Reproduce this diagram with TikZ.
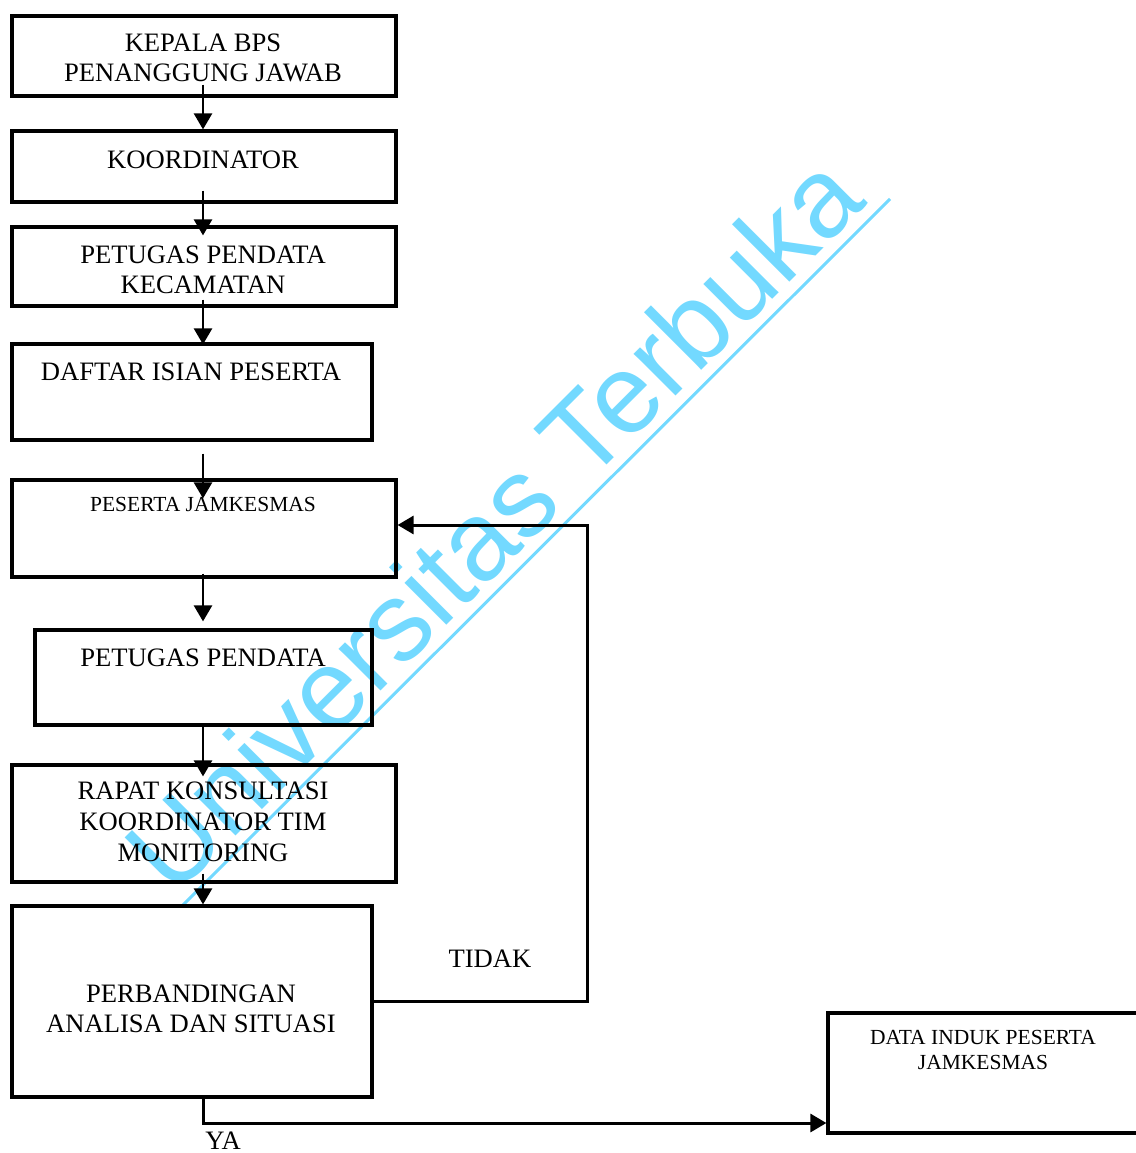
\documentclass[tikz,border=0pt]{standalone}
\usepackage{fontspec}
\setmainfont{Liberation Serif}
\newfontfamily\wmfont{Liberation Sans}
\usetikzlibrary{arrows.meta,fit,calc}
\definecolor{wmblue}{RGB}{115,217,255}
\begin{document}
\begin{tikzpicture}[x=1pt,y=-1pt,
  box/.style={draw, line width=3.2pt, inner sep=0pt},
  lbl/.style={font=\fontsize{26.6}{30}\selectfont, anchor=base, inner sep=0pt},
  lbls/.style={font=\fontsize{21.5}{25}\selectfont, anchor=base, inner sep=0pt},
  arr/.style={line width=2.6pt, -{Triangle[length=16pt,width=18pt]}},
  wmtext/.style={font=\wmfont\fontsize{112}{112}\selectfont, text=wmblue, rotate=45, anchor=base west, inner sep=0pt},
  wmline/.style={draw=wmblue, line width=3pt},
]
\useasboundingbox (0,0) rectangle (1135,1153);

% watermark
\node[wmtext] (wm) at (173,899) {Universitas Terbuka};
\coordinate (wmA) at (183,905);
\coordinate (wmB) at (890,199);
\draw[wmline] (wmA) -- (wmB);

% boxes
\node[box, fit={(12,16) (396,96)}] (b1) {};
\node[box, fit={(12,131) (396,202)}] (b2) {};
\node[box, fit={(12,227) (396,306)}] (b3) {};
\node[box, fit={(12,344) (372,440)}] (b4) {};
\node[box, fit={(12,480) (396,577)}] (b5) {};
\node[box, fit={(35,630) (372,725)}] (b6) {};
\node[box, fit={(12,765) (396,882)}] (b7) {};
\node[box, fit={(12,906) (372,1097)}] (b8) {};
\node[box, fit={(828,1013) (1145,1133)}] (b9) {};

% texts
\node[lbl] (t1a) at (203,52) {KEPALA BPS};
\node[lbl] (t1b) at (203,82) {PENANGGUNG JAWAB};
\node[lbl] (t2) at (203,168) {KOORDINATOR};
\node[lbl] (t3a) at (203,263) {PETUGAS PENDATA};
\node[lbl] (t3b) at (203,293) {KECAMATAN};
\node[lbl] (t4) at (191,380) {DAFTAR ISIAN PESERTA};
\node[lbls] (t5) at (203,511) {PESERTA JAMKESMAS};
\node[lbl] (t6) at (203,666) {PETUGAS PENDATA};
\node[lbl] (t7a) at (203,799) {RAPAT KONSULTASI};
\node[lbl] (t7b) at (203,830) {KOORDINATOR TIM};
\node[lbl] (t7c) at (203,861) {MONITORING};
\node[lbl] (t8a) at (191,1002) {PERBANDINGAN};
\node[lbl] (t8b) at (191,1032) {ANALISA DAN SITUASI};
\node[lbls] (t9a) at (983,1044) {DATA INDUK PESERTA};
\node[lbls] (t9b) at (983,1069) {JAMKESMAS};
\node[lbl] (tidak) at (490,967) {TIDAK};
\node[lbl] (ya) at (223,1149) {YA};

% vertical arrows
\draw[arr] ($(b1.south)+(-1,-13)$) -- ($(b2.north)+(-1,0)$);
\draw[arr] ($(b2.south)+(-1,-13)$) -- ($(b3.north)+(-1,10)$);
\draw[arr] ($(b3.south)+(-1,-8)$) -- ($(b3.south |- b4.north)+(-1,2)$);
\draw[arr] ($(b3.south |- b4.south)+(-1,12)$) -- ($(b5.north)+(-1,20)$);
\draw[arr] ($(b5.south)+(-1,-5)$) -- ($(b6.north)+(-0.5,-7)$);
\draw[arr] ($(b6.south)+(-0.5,0)$) -- ($(b7.north)+(-1,13)$);
\draw[arr] ($(b7.south)+(-1,-10)$) -- ($(b7.south |- b8.north)+(-1,0)$);

% feedback (TIDAK)
\coordinate (fb) at (587,525);
\draw[arr, line width=3pt] (b8.east) -| (fb) -- (b5.east |- fb);

% YA
\coordinate (yc) at (203,1123);
\draw[arr, line width=3pt] (yc |- b8.south) -- (yc) -- (b9.west |- yc);
\end{tikzpicture}
\end{document}
